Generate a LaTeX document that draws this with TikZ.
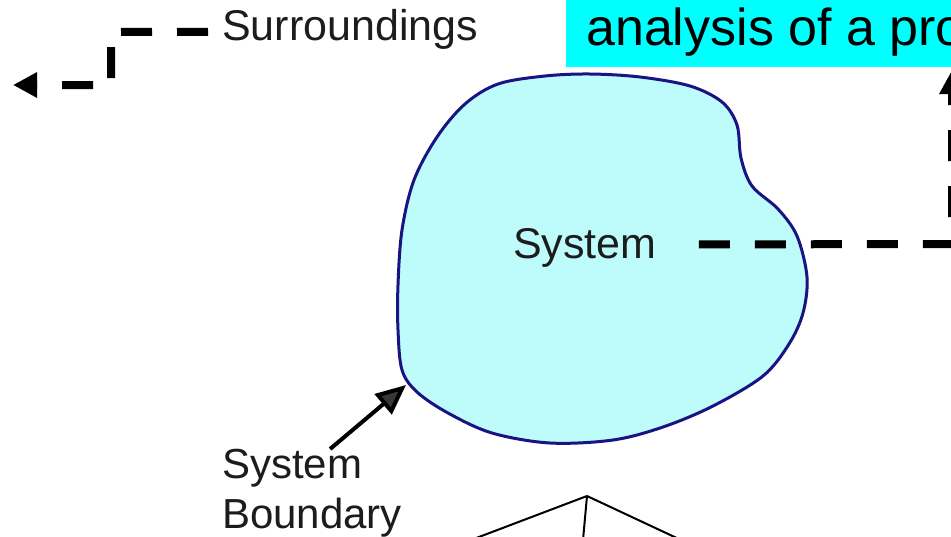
\documentclass[tikz,border=0pt]{standalone}
\usepackage{fontspec}
\setmainfont{Liberation Sans}
\usetikzlibrary{arrows.meta}
\definecolor{blobfill}{RGB}{190,252,252}
\definecolor{blobline}{RGB}{25,20,130}
\definecolor{txt}{RGB}{28,28,28}
\definecolor{boxcyan}{RGB}{0,255,255}
\definecolor{arrowgray}{RGB}{55,55,55}
\begin{document}
\begin{tikzpicture}[x=1pt,y=-1pt,
  lbl/.style={font=\fontsize{43}{50}\selectfont, text=txt, inner sep=0pt},
  dasharrow/.style={line width=8pt, dash pattern=on 31pt off 25pt,
    -{Triangle[length=24pt,width=24pt]}},
  thinline/.style={line width=2pt}]
\useasboundingbox (0,0) rectangle (951,536);
\clip (0,0) rectangle (951,536);
\fill[white] (0,0) rectangle (951,536);

% system blob
\draw[blobline, fill=blobfill, line width=3pt] plot[smooth cycle, tension=0.55] coordinates {
 (498,84) (545,76) (590,74) (640,77) (690,86) (722,102) (737,125) (741,158)
 (752,186) (778,209) (797,236) (807,277) (803,313) (789,344) (763,376) (713,406)
 (663,427) (613,440) (550,443) (492,433) (448,413) (417,392) (402,370) (398,330)
 (398,285) (402,230) (414,180) (437,137) (465,104)};

% title box (cut off)
\node[fill=boxcyan, anchor=base west, inner xsep=20pt, inner ysep=0pt,
      text height=60pt, text depth=22pt, font=\fontsize{52}{60}\selectfont]
      (title) at (566,45) {analysis of a pro};

% labels
\node[lbl, anchor=base west] (surr) at (222,40) {Surroundings};
\node[lbl, anchor=base west] (sys) at (513,258) {System};
\node[lbl, anchor=north west, align=left, font=\fontsize{42}{50}\selectfont]
      (bnd) at (222,449) {System\\Boundary};

% coordinates
\coordinate (c1) at (111,32);
\coordinate (c2) at (111,85);
\coordinate (sEnd) at (13,85);
\coordinate (rc) at (952,244);
\coordinate (rtip) at (952,70);
\coordinate (btip) at (406,385);

% dashed arrows
\draw[dasharrow] ([shift={(-14,3)}]surr.west) -- (c1) -- (c2) -- (sEnd);
\draw[dasharrow] ([shift={(42,-3)}]sys.east) -- (rc) -- (rtip);

% boundary arrow
\draw[line width=4pt, -{Triangle[length=30pt,width=26pt,fill=arrowgray]}]
  ([xshift=18pt]bnd.north) -- (btip);

% bottom lines
\coordinate (apex) at (587,496);
\coordinate (b1) at (471,540);
\coordinate (b2) at (583,540);
\coordinate (b3) at (681,540);
\draw[thinline] (apex) -- (b1);
\draw[thinline] (apex) -- (b2);
\draw[thinline] (apex) -- (b3);
\end{tikzpicture}
\end{document}
